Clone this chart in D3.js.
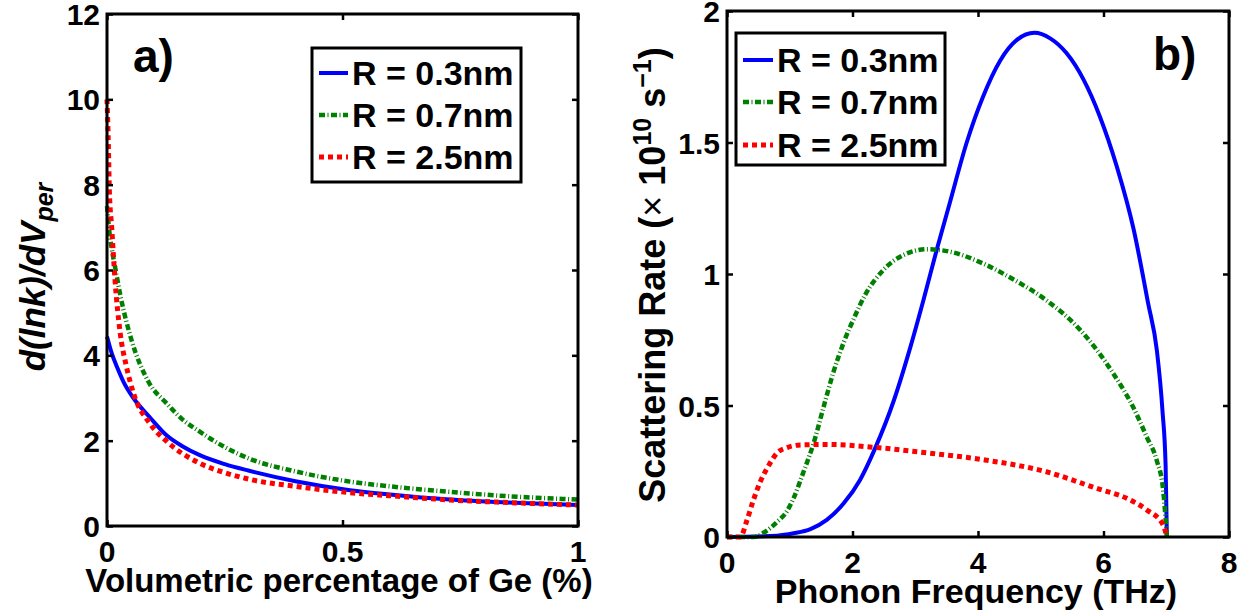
<!DOCTYPE html>
<html>
<head>
<meta charset="utf-8">
<script src="https://cdn.jsdelivr.net/npm/d3@7"></script>
<style>
  body { margin: 0; background: #fff; }
  svg { display: block; font-family: "Liberation Sans", Arial, sans-serif; font-weight: bold; }
</style>
</head>
<body>
<svg id="chart" width="1248" height="615"></svg>
<script>
// ---- data ----
const seriesNames = ["R = 0.3nm", "R = 0.7nm", "R = 2.5nm"];

// panel a) : volumetric percentage of Ge (%) vs d(lnk)/dV_per
const volBlue = [[0, 4.44], [0.01, 4.05], [0.021, 3.73], [0.035, 3.38], [0.056, 3.0], [0.09, 2.56],
  [0.127, 2.12], [0.16, 1.87], [0.197, 1.66], [0.25, 1.45], [0.3, 1.3], [0.4, 1.05], [0.516, 0.84],
  [0.6, 0.74], [0.728, 0.62], [0.85, 0.55], [1.0, 0.49]];
const volGreen = [[0, 7.5], [0.005, 6.9], [0.01, 6.5], [0.017, 6.08], [0.029, 5.37], [0.052, 4.36],
  [0.088, 3.38], [0.127, 2.87], [0.16, 2.5], [0.197, 2.21], [0.25, 1.85], [0.304, 1.57], [0.4, 1.28],
  [0.516, 1.04], [0.6, 0.93], [0.728, 0.8], [0.85, 0.7], [1.0, 0.62]];
const volRed = [[0, 10.0], [0.003, 8.89], [0.005, 7.87], [0.01, 7.0], [0.017, 5.77], [0.028, 4.52],
  [0.04, 3.8], [0.056, 3.12], [0.091, 2.4], [0.127, 1.98], [0.197, 1.47], [0.25, 1.25], [0.304, 1.09],
  [0.4, 0.93], [0.516, 0.78], [0.6, 0.71], [0.728, 0.61], [0.85, 0.55], [1.0, 0.49]];

// panel b) : phonon frequency (THz) vs scattering rate (x 1e10 1/s)
const freqBlue = [[0, 0], [0.8, 0.005], [1.06, 0.014], [1.33, 0.03], [1.59, 0.065], [1.86, 0.128],
  [2.12, 0.217], [2.36, 0.337], [2.66, 0.52], [2.92, 0.72], [3.13, 0.9], [3.34, 1.09], [3.55, 1.27],
  [3.82, 1.5], [4.08, 1.674], [4.35, 1.81], [4.62, 1.89], [4.9, 1.917], [5.15, 1.896], [5.41, 1.84],
  [5.68, 1.74], [5.94, 1.6], [6.21, 1.41], [6.48, 1.17], [6.71, 0.89], [6.85, 0.71], [6.94, 0.48],
  [6.99, 0.27], [7.01, 0]];
const freqGreen = [[0, 0], [0.42, 0], [0.61, 0.02], [0.8, 0.058], [0.96, 0.1], [1.06, 0.147],
  [1.22, 0.248], [1.38, 0.356], [1.54, 0.495], [1.7, 0.63], [1.86, 0.74], [2.02, 0.83], [2.2, 0.92],
  [2.49, 1.015], [2.81, 1.072], [3.18, 1.094], [3.55, 1.085], [4.08, 1.04], [4.56, 0.98], [5.09, 0.9],
  [5.63, 0.787], [6.16, 0.62], [6.47, 0.495], [6.69, 0.38], [6.85, 0.29], [6.95, 0.18], [7.01, 0]];
const freqRed = [[0, 0], [0.21, 0], [0.32, 0.065], [0.42, 0.14], [0.53, 0.21], [0.66, 0.27],
  [0.8, 0.32], [0.96, 0.34], [1.17, 0.35], [1.59, 0.352], [2.39, 0.34], [3.19, 0.32], [4.11, 0.293],
  [5.09, 0.248], [5.89, 0.185], [6.37, 0.147], [6.69, 0.103], [6.95, 0.046], [7.01, 0]];

const volTicksX = [0, 0.5, 1];
const volTicksY = [0, 2, 4, 6, 8, 10, 12];
const freqTicksX = [0, 2, 4, 6, 8];
const freqTicksY = [0, 0.5, 1, 1.5, 2];

// ---- line styles (matlab-ish: solid, dash-dot, dotted) ----
const styles = [
  { color: "#0000ff", dash: null, width: 4 },
  { color: "#008000", dash: "6,2.5,1,2.5", width: 4.5 },
  { color: "#ff0000", dash: "5,4", width: 5 },
];

const svg = d3.select("#chart");

function drawPanel(cfg) {
  const x = d3.scaleLinear().domain(cfg.xDomain).range([cfg.left, cfg.right]);
  const y = d3.scaleLinear().domain(cfg.yDomain).range([cfg.bottom, cfg.top]);
  const g = svg.append("g");

  // curves
  const line = d3.line()
    .x((d) => x(d[0]))
    .y((d) => y(d[1]))
    .curve(d3.curveMonotoneX);

  cfg.series.forEach((s, i) => {
    g.append("path")
      .datum(s)
      .attr("d", line)
      .attr("fill", "none")
      .attr("stroke", styles[i].color)
      .attr("stroke-width", styles[i].width)
      .attr("stroke-dasharray", styles[i].dash);
  });

  // box + inward ticks on all four sides
  const tickLen = 6;
  const axisBottom = d3.axisBottom(x).tickValues(cfg.xTicks).tickSize(tickLen).tickFormat("");
  const axisTop = d3.axisTop(x).tickValues(cfg.xTicks).tickSize(tickLen).tickFormat("");
  const axisLeft = d3.axisLeft(y).tickValues(cfg.yTicks).tickSize(tickLen).tickFormat("");
  const axisRight = d3.axisRight(y).tickValues(cfg.yTicks).tickSize(tickLen).tickFormat("");

  g.append("g").attr("transform", `translate(0,${cfg.bottom})`).call(axisTop);
  g.append("g").attr("transform", `translate(0,${cfg.top})`).call(axisBottom);
  g.append("g").attr("transform", `translate(${cfg.left},0)`).call(axisRight);
  g.append("g").attr("transform", `translate(${cfg.right},0)`).call(axisLeft);
  g.selectAll(".domain").remove();
  g.selectAll(".tick line").attr("stroke", "#000").attr("stroke-width", 2.5);

  g.append("rect")
    .attr("x", cfg.left).attr("y", cfg.top)
    .attr("width", cfg.right - cfg.left).attr("height", cfg.bottom - cfg.top)
    .attr("fill", "none").attr("stroke", "#000").attr("stroke-width", 3);

  // tick labels
  g.selectAll(".xlab")
    .data(cfg.xTicks)
    .join("text")
    .attr("x", (d) => x(d))
    .attr("y", cfg.bottom + 36)
    .attr("text-anchor", "middle")
    .attr("font-size", 30)
    .text((d) => d);

  g.selectAll(".ylab")
    .data(cfg.yTicks)
    .join("text")
    .attr("x", cfg.left - 7)
    .attr("y", (d) => y(d) + 11)
    .attr("text-anchor", "end")
    .attr("font-size", 30)
    .text((d) => d);

  // x axis title
  g.append("text")
    .attr("x", cfg.xTitleX)
    .attr("y", cfg.xTitleY)
    .attr("text-anchor", "middle")
    .attr("font-size", cfg.xTitleSize)
    .text(cfg.xTitle);

  // panel tag
  g.append("text")
    .attr("x", cfg.tag.x)
    .attr("y", cfg.tag.y)
    .attr("font-size", 46)
    .text(cfg.tag.text);

  // legend
  const lg = cfg.legend;
  g.append("rect")
    .attr("x", lg.x0).attr("y", lg.y0)
    .attr("width", lg.x1 - lg.x0).attr("height", lg.y1 - lg.y0)
    .attr("fill", "#fff").attr("stroke", "#000").attr("stroke-width", 3);

  seriesNames.forEach((name, i) => {
    const cy = lg.rows[i];
    g.append("line")
      .attr("x1", lg.lineX0).attr("x2", lg.lineX1)
      .attr("y1", cy).attr("y2", cy)
      .attr("stroke", styles[i].color)
      .attr("stroke-width", styles[i].width)
      .attr("stroke-dasharray", styles[i].dash);
    g.append("text")
      .attr("x", lg.textX)
      .attr("y", cy + 12)
      .attr("font-size", 34)
      .text(name);
  });

  return g;
}

drawPanel({
  left: 107, right: 578, top: 14, bottom: 526,
  xDomain: [0, 1], yDomain: [0, 12],
  xTicks: volTicksX, yTicks: volTicksY,
  series: [volBlue, volGreen, volRed],
  xTitle: "Volumetric percentage of Ge (%)", xTitleX: 339, xTitleY: 592, xTitleSize: 33,
  tag: { text: "a)", x: 133, y: 72 },
  legend: { x0: 312, x1: 521, y0: 48, y1: 182, rows: [73, 115, 157], lineX0: 319, lineX1: 348, textX: 352 },
});

drawPanel({
  left: 727, right: 1229, top: 11, bottom: 537,
  xDomain: [0, 8], yDomain: [0, 2],
  xTicks: freqTicksX, yTicks: freqTicksY,
  series: [freqBlue, freqGreen, freqRed],
  xTitle: "Phonon Frequency (THz)", xTitleX: 976, xTitleY: 603, xTitleSize: 34,
  tag: { text: "b)", x: 1153, y: 70 },
  legend: { x0: 736, x1: 945, y0: 33, y1: 165, rows: [60, 102, 145], lineX0: 743, lineX1: 773, textX: 777 },
});

// y axis titles (rotated, with sub/superscripts)
const yTitleA = svg.append("text")
  .attr("transform", "translate(45,277) rotate(-90)")
  .attr("text-anchor", "middle")
  .attr("font-size", 35)
  .attr("font-style", "italic");
yTitleA.append("tspan").text("d(lnk)/dV");
yTitleA.append("tspan").attr("font-size", 25).attr("dy", 8).text("per");

const yTitleB = svg.append("text")
  .attr("transform", "translate(665,275) rotate(-90)")
  .attr("text-anchor", "middle")
  .attr("font-size", 36);
yTitleB.append("tspan").text("Scattering Rate (");
yTitleB.append("tspan").attr("font-weight", "normal").text("×");
yTitleB.append("tspan").text(" 10");
yTitleB.append("tspan").attr("font-size", 25).attr("dy", -14).text("10");
yTitleB.append("tspan").attr("dy", 14).text(" s");
yTitleB.append("tspan").attr("font-size", 25).attr("dy", -14).text("−1");
yTitleB.append("tspan").attr("dy", 14).text(")");
</script>
</body>
</html>
